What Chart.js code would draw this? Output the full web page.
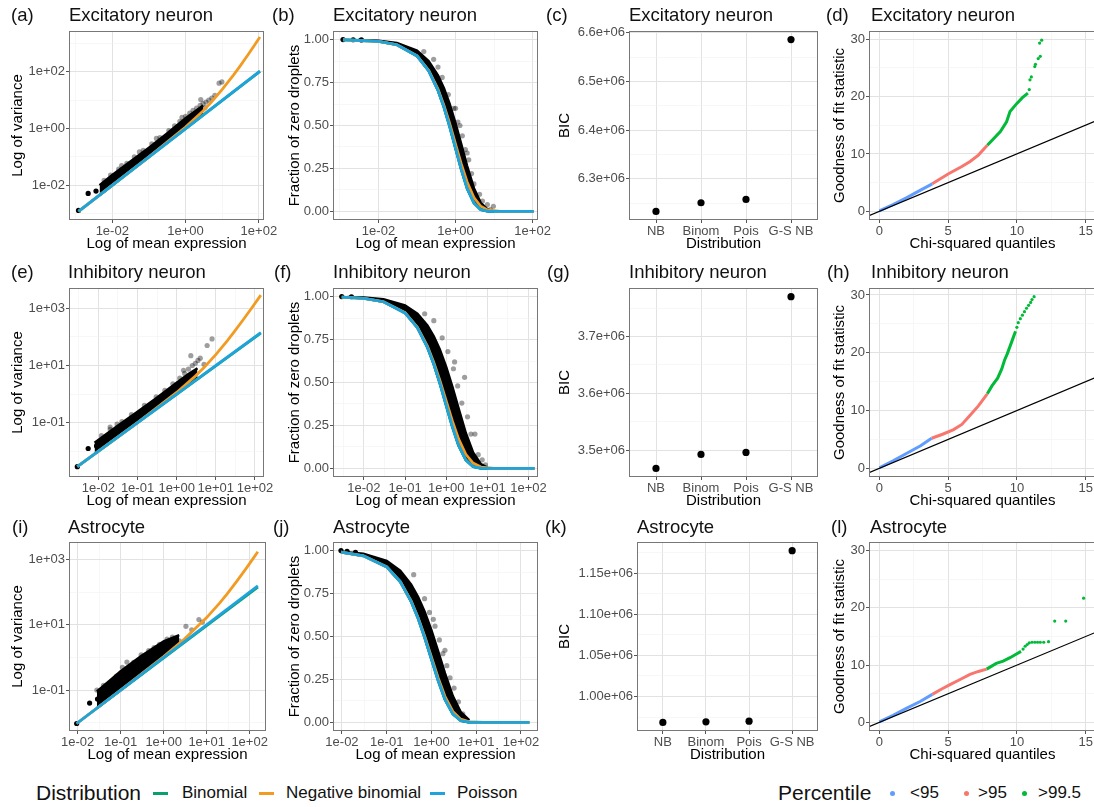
<!DOCTYPE html>
<html>
<head>
<meta charset="utf-8">
<script src="https://cdn.jsdelivr.net/npm/chart.js@4.4.1/dist/chart.umd.min.js"></script>
<style>
  body { margin: 0; width: 1094px; height: 807px; overflow: hidden; background: #fff; position: relative;
         font-family: 'Liberation Sans', Arial, Helvetica, sans-serif; }
  canvas { position: absolute; }
  .tag, .ttl { position: absolute; font-size: 18.5px; line-height: 22px; color: #111; white-space: nowrap; }
  .leg { position: absolute; white-space: nowrap; color: #111; line-height: 24px; }
  .leg .head { font-size: 21px; }
  .leg .lab { font-size: 17px; }
  .key { position: absolute; }
</style>
</head>
<body>
<script>
// ---------- tick labels / categories ----------
const bicLabels = ['NB', 'Binom', 'Pois', 'G-S NB'];
const bicExc = [6.233e6, 6.2507e6, 6.2575e6, 6.586e6];
const bicInh = [3.4679e6, 3.4925e6, 3.496e6, 3.770e6];
const bicAst = [0.9684e6, 0.9692e6, 0.9700e6, 1.1775e6];

// ---------- (a) excitatory: variance vs mean ----------
const excVarPoisX = [0.0012, 107];
const excVarPoisY = [0.0012, 107];
const excVarBinomY = [0.0012, 104];
const excVarNbX = [0.0012, 0.1, 1, 3, 5, 10, 20, 30, 50, 75, 107];
const excVarNbY = [0.0012, 0.101, 1.14, 4.2, 8.4, 24, 75, 153, 392, 845, 1680];
const excVarBandX = [0.0045, 0.01, 0.03, 0.1, 0.3, 1, 2, 3];
const excVarBandLo = [0.0045, 0.0101, 0.031, 0.104, 0.32, 1.1, 2.3, 3.6];
const excVarBandHi = [0.01, 0.023, 0.066, 0.21, 0.65, 2.3, 4.4, 6.5];
const excVarGreyX = [0.006, 0.009, 0.015, 0.025, 0.04, 0.07, 0.12, 0.2, 0.35, 0.5, 0.7, 1.0, 1.3, 1.6, 2.0, 2.5, 3.0, 3.6, 4.3, 5.2, 6.3, 2.6, 8.2, 9.8, 3.4, 0.018, 0.055, 0.16, 0.8];
const excVarGreyY = [0.015, 0.023, 0.037, 0.06, 0.1, 0.17, 0.29, 0.48, 0.85, 1.25, 1.8, 2.7, 3.5, 4.4, 5.3, 6.6, 7.6, 8.6, 10, 12, 15, 10.5, 40, 44, 5.5, 0.05, 0.15, 0.45, 2.5];
const excVarDarkX = [0.0012, 0.0022, 0.0036];
const excVarDarkY = [0.0013, 0.0052, 0.0063];

// ---------- (b) excitatory: zero fraction ----------
const excZeroX = [0.0012, 0.01, 0.03, 0.1, 0.2, 0.35, 0.5, 0.7, 1, 1.4, 2, 3, 4.5, 7, 15, 107];
const excZeroPois = [0.999, 0.990, 0.970, 0.905, 0.819, 0.705, 0.607, 0.497, 0.368, 0.247, 0.135, 0.050, 0.011, 0.001, 0, 0];
const excZeroNb = [0.999, 0.990, 0.970, 0.906, 0.822, 0.712, 0.617, 0.513, 0.392, 0.278, 0.171, 0.081, 0.030, 0.0074, 0.0003, 0];
const excZeroBinom = [0.999, 0.990, 0.970, 0.905, 0.819, 0.704, 0.606, 0.495, 0.366, 0.244, 0.132, 0.048, 0.010, 0.0008, 0, 0];
const excZeroBandX = [0.003, 0.01, 0.03, 0.1, 0.2, 0.35, 0.5, 0.7, 1, 1.4, 2, 3, 4.5, 7, 10];
const excZeroBandLo = [0.997, 0.990, 0.970, 0.905, 0.819, 0.705, 0.607, 0.497, 0.368, 0.247, 0.135, 0.050, 0.011, 0.001, 0.0001];
const excZeroBandHi = [0.998, 0.9934, 0.980, 0.9355, 0.875, 0.792, 0.7165, 0.627, 0.513, 0.393, 0.264, 0.135, 0.050, 0.0094, 0.0013];
const excZeroGreyX = [0.27, 0.45, 0.65, 0.9, 1.15, 1.3, 1.5, 1.8, 2.2, 2.6, 3.0, 3.6, 4.2, 5.0, 6.7, 9.6, 5.6, 8, 2.0, 1.0, 0.15, 0.35];
const excZeroGreyY = [0.885, 0.78, 0.68, 0.6, 0.52, 0.5, 0.44, 0.36, 0.3, 0.22, 0.16, 0.06, 0.1, 0.06, 0.04, 0.03, 0.015, 0.01, 0.34, 0.6, 0.93, 0.84];
const excZeroDarkX = [0.0012, 0.0022, 0.0036];
const excZeroDarkY = [1.0, 0.999, 0.998];

// ---------- (d) excitatory: QQ ----------
const excQqBlueX = [0, 1, 2, 3, 3.85];
const excQqBlueY = [0.1, 1.2, 2.4, 3.7, 4.8];
const excQqRedX = [3.85, 5, 6, 6.6, 7.2, 7.85];
const excQqRedY = [4.8, 6.5, 7.8, 8.7, 9.8, 11.5];
const excQqGreenX = [7.85, 8.2, 8.8, 9.25, 9.5, 10, 10.4, 10.8];
const excQqGreenY = [11.5, 12.4, 13.9, 15.6, 17.4, 18.8, 19.8, 20.6];
const excQqDotX = [10.9, 10.95, 11.05, 11.3, 11.35, 11.55, 11.7, 11.65, 11.8];
const excQqDotY = [21.2, 22.9, 23.4, 25.2, 25.6, 26.6, 27.0, 29.3, 29.8];

// ---------- (e) inhibitory: variance vs mean ----------
const inhVarPoisX = [0.0029, 141];
const inhVarPoisY = [0.0029, 141];
const inhVarBinomY = [0.0029, 136];
const inhVarNbX = [0.0029, 0.1, 1, 3, 5, 10, 20, 30, 50, 80, 141];
const inhVarNbY = [0.0029, 0.1014, 1.14, 4.25, 8.47, 23.9, 75.6, 155, 397, 969, 2902];
const inhVarBandX = [0.008, 0.03, 0.1, 0.3, 1, 2, 3.4];
const inhVarBandLo = [0.0082, 0.031, 0.104, 0.32, 1.1, 2.3, 4];
const inhVarBandHi = [0.02, 0.075, 0.24, 0.72, 2.5, 5, 8];
const inhVarGreyX = [0.012, 0.02, 0.04, 0.07, 0.15, 0.3, 0.5, 0.8, 1.2, 1.6, 2, 2.3, 2.5, 3, 3.5, 4, 5, 6, 8, 1.5, 0.02, 0.03];
const inhVarGreyY = [0.035, 0.058, 0.11, 0.19, 0.4, 0.8, 1.35, 2.3, 3.6, 5.3, 7.5, 22, 10, 12, 15, 18, 11, 50, 85, 6.8, 0.07, 0.09];
const inhVarDarkX = [0.0029, 0.0055, 0.009];
const inhVarDarkY = [0.0029, 0.0125, 0.0154];

// ---------- (f) inhibitory: zero fraction ----------
const inhZeroX = [0.0029, 0.01, 0.03, 0.1, 0.2, 0.35, 0.5, 0.7, 1, 1.4, 2, 3, 4.5, 7, 15, 141];
const inhZeroPois = [0.997, 0.990, 0.970, 0.905, 0.819, 0.705, 0.607, 0.497, 0.368, 0.247, 0.135, 0.050, 0.011, 0.001, 0, 0];
const inhZeroNb = [0.997, 0.990, 0.970, 0.906, 0.822, 0.712, 0.617, 0.513, 0.393, 0.279, 0.172, 0.082, 0.031, 0.0077, 0.0003, 0];
const inhZeroBinom = [0.997, 0.990, 0.970, 0.905, 0.819, 0.704, 0.606, 0.495, 0.366, 0.244, 0.132, 0.048, 0.010, 0.0008, 0, 0];
const inhZeroBandX = [0.004, 0.01, 0.03, 0.1, 0.2, 0.35, 0.5, 0.7, 1, 1.4, 2, 3, 4.5, 7, 10];
const inhZeroBandLo = [0.996, 0.990, 0.970, 0.905, 0.819, 0.705, 0.607, 0.497, 0.368, 0.247, 0.135, 0.050, 0.011, 0.001, 0.0001];
const inhZeroBandHi = [0.998, 0.9948, 0.984, 0.9487, 0.900, 0.832, 0.7686, 0.692, 0.591, 0.4786, 0.349, 0.206, 0.0936, 0.0251, 0.0052];
const inhZeroGreyX = [0.5, 0.8, 1.1, 1.5, 1.9, 2.4, 2.8, 3.3, 4, 5, 6, 7.5, 3, 1.6, 9, 0.3];
const inhZeroGreyY = [0.86, 0.76, 0.68, 0.58, 0.48, 0.38, 0.53, 0.3, 0.2, 0.2, 0.08, 0.05, 0.14, 0.62, 0.02, 0.9];
const inhZeroDarkX = [0.0029, 0.005];
const inhZeroDarkY = [1.0, 0.999];

// ---------- (h) inhibitory: QQ ----------
const inhQqBlueX = [0, 1, 2, 3, 3.8];
const inhQqBlueY = [0.1, 1.3, 2.6, 3.9, 5.2];
const inhQqRedX = [3.8, 4.6, 5.4, 6.0, 6.6, 7.2, 7.85];
const inhQqRedY = [5.2, 5.9, 6.7, 7.6, 9.2, 10.8, 12.9];
const inhQqGreenX = [7.85, 8.2, 8.6, 8.9, 9.1, 9.3, 9.5, 9.7, 9.9];
const inhQqGreenY = [12.9, 14.3, 15.6, 17.2, 18.7, 19.8, 21.1, 22.4, 23.7];
const inhQqDotX = [10.0, 10.1, 10.25, 10.4, 10.55, 10.7, 10.85, 11.0, 11.1, 11.25];
const inhQqDotY = [24.4, 25.2, 25.9, 26.5, 27.1, 27.7, 28.2, 28.7, 29.2, 29.7];

// ---------- (i) astrocyte: variance vs mean ----------
const astVarPoisX = [0.0095, 155];
const astVarPoisY = [0.0095, 155];
const astVarBinomY = [0.0095, 140];
const astVarNbX = [0.0095, 0.1, 1, 3, 10, 20, 30, 50, 80, 120, 155];
const astVarNbY = [0.0095, 0.1006, 1.065, 3.58, 16.5, 45.8, 88, 211, 493, 1049, 1705];
const astVarBandX = [0.028, 0.06, 0.1, 0.3, 1, 2.3];
const astVarBandLo = [0.028, 0.06, 0.1, 0.3, 1.02, 2.4];
const astVarBandHi = [0.09, 0.21, 0.38, 1.1, 3.1, 4.8];
const astVarGreyX = [0.028, 0.04, 0.08, 0.11, 0.14, 0.2, 0.3, 0.45, 0.6, 0.8, 1.2, 1.6, 2.3, 3.3, 4.5, 6.6, 8];
const astVarGreyY = [0.1, 0.14, 0.27, 0.5, 0.72, 0.7, 1.2, 1.6, 2.0, 2.5, 3.6, 4.2, 3.2, 8.9, 7, 14.3, 12];
const astVarDarkX = [0.0095, 0.019, 0.029];
const astVarDarkY = [0.0095, 0.04, 0.053];

// ---------- (j) astrocyte: zero fraction ----------
const astZeroX = [0.0095, 0.03, 0.1, 0.2, 0.35, 0.5, 0.7, 1, 1.4, 2, 3, 4.5, 7, 15, 155];
const astZeroPois = [0.9905, 0.970, 0.905, 0.819, 0.705, 0.607, 0.497, 0.368, 0.247, 0.135, 0.050, 0.011, 0.001, 0, 0];
const astZeroNb = [0.9905, 0.970, 0.905, 0.820, 0.708, 0.611, 0.504, 0.379, 0.262, 0.152, 0.064, 0.019, 0.003, 0.0001, 0];
const astZeroBinom = [0.9905, 0.970, 0.905, 0.819, 0.704, 0.606, 0.495, 0.366, 0.244, 0.132, 0.048, 0.010, 0.0008, 0, 0];
const astZeroBandX = [0.0095, 0.03, 0.1, 0.2, 0.35, 0.5, 0.7, 1, 1.4, 2, 3, 4.5, 7];
const astZeroBandLo = [0.9905, 0.970, 0.905, 0.819, 0.705, 0.607, 0.497, 0.368, 0.247, 0.135, 0.050, 0.011, 0.001];
const astZeroBandHi = [0.994, 0.9814, 0.9394, 0.8825, 0.8035, 0.7316, 0.6456, 0.535, 0.417, 0.2865, 0.1534, 0.060, 0.0126];
const astZeroGreyX = [0.4, 0.7, 0.9, 1.2, 1.5, 1.8, 2.2, 2.6, 3.2, 4, 5, 2, 1.1];
const astZeroGreyY = [0.86, 0.72, 0.64, 0.56, 0.48, 0.4, 0.33, 0.26, 0.2, 0.12, 0.05, 0.42, 0.6];
const astZeroDarkX = [0.0095, 0.013, 0.02];
const astZeroDarkY = [1.0, 0.995, 0.99];

// ---------- (l) astrocyte: QQ ----------
const astQqBlueX = [0, 1, 2, 3, 3.85];
const astQqBlueY = [0.1, 1.25, 2.5, 3.7, 4.9];
const astQqRedX = [3.85, 4.5, 5.14, 5.8, 6.59, 7.2, 7.8];
const astQqRedY = [4.9, 5.8, 6.6, 7.4, 8.4, 8.9, 9.3];
const astQqGreenX = [7.8, 8.5, 9, 9.5, 10, 10.3];
const astQqGreenY = [9.3, 10.3, 10.7, 11.3, 12.0, 12.4];
const astQqDotX = [10.45, 10.6, 10.75, 10.9, 11.1, 11.3, 11.5, 11.7, 11.95, 12.3, 12.75, 13.55, 14.85];
const astQqDotY = [12.8, 13.3, 13.6, 13.9, 14.0, 14.0, 14.0, 14.0, 14.0, 14.1, 17.7, 17.7, 21.7];

// reference line y = x of the QQ panels
const qqRefX = [-0.75, 15.75];

// ---------- colours ----------
const COL_BINOM = '#0A9F70';
const COL_NB = '#F29B22';
const COL_POIS = '#1FA3DD';
const COL_P95 = '#619CFF';
const COL_P95UP = '#F8766D';
const COL_P995 = '#00BA38';

Chart.defaults.font.family = "'Liberation Sans', Arial, Helvetica, sans-serif";

function pts(xs, ys) { return xs.map((x, i) => ({ x: x, y: ys[i] })); }

function logLab(v) {
  const e = Math.round(Math.log10(v));
  return '1e' + (e < 0 ? '-' : '+') + String(Math.abs(e)).padStart(2, '0');
}
function sciLab(d) {
  return v => {
    const e = Math.floor(Math.log10(v) + 1e-9);
    return (v / Math.pow(10, e)).toFixed(d) + 'e+' + String(e).padStart(2, '0');
  };
}

// panel border drawn over the data, like ggplot's theme_bw
const panelBorder = {
  id: 'panelBorder',
  afterDatasetsDraw(chart) {
    const a = chart.chartArea, c = chart.ctx;
    c.save();
    c.strokeStyle = '#777';
    c.lineWidth = 1;
    c.strokeRect(Math.round(a.left) + 0.5, Math.round(a.top) + 0.5, Math.round(a.width) - 1, Math.round(a.height) - 1);
    c.restore();
  }
};

function axis(type, min, max, major, minor, fmt, title) {
  const isMinor = c => c.tick && c.tick.minor;
  return {
    type: type, min: min, max: max,
    title: { display: true, text: title, color: '#000', font: { size: 15 }, padding: 0 },
    border: { display: false },
    grid: {
      color: c => isMinor(c) ? '#F1F1F1' : '#E2E2E2',
      lineWidth: c => isMinor(c) ? 0.6 : 1,
      tickColor: c => isMinor(c) ? 'rgba(0,0,0,0)' : '#555',
      tickWidth: 1,
      tickLength: 3
    },
    ticks: {
      color: '#4D4D4D', font: { size: 13, lineHeight: 1.1 }, padding: 1, autoSkip: false, maxRotation: 0,
      callback: function (v) { return major.indexOf(v) >= 0 ? fmt(v) : ''; }
    },
    afterBuildTicks: s => {
      s.ticks = major.map(v => ({ value: v })).concat(minor.map(v => ({ value: v, minor: true })));
    }
  };
}

function panel(box, datasets, xAx, yAx) {
  const cv = document.createElement('canvas');
  const left = box.L - box.wy, top = box.T - 10;
  const w = box.R + 30 - left, h = box.B + box.hx - top;
  cv.width = w; cv.height = h;
  cv.style.left = left + 'px'; cv.style.top = top + 'px';
  cv.style.width = w + 'px'; cv.style.height = h + 'px';
  document.body.appendChild(cv);
  xAx.afterFit = s => { s.height = box.hx; s.paddingLeft = 0; s.paddingRight = 0; };
  yAx.afterFit = s => { s.width = box.wy; s.paddingTop = 0; s.paddingBottom = 0; };
  new Chart(cv, {
    type: 'line',
    data: { datasets: datasets },
    options: {
      responsive: false, animation: false, events: [],
      layout: { padding: { top: 10, right: 30, left: 0, bottom: 0 } },
      plugins: { legend: { display: false }, tooltip: { enabled: false } },
      scales: { x: xAx, y: yAx }
    },
    plugins: [panelBorder]
  });
}

function lineSet(data, color, width) {
  return { data: data, borderColor: color, borderWidth: width || 2.8, pointRadius: 0, fill: false, tension: 0 };
}
function dotSet(data, color, r) {
  return { data: data, showLine: false, pointRadius: r, pointBackgroundColor: color, pointBorderWidth: 0 };
}
function bandSets(xs, lo, hi) {
  return [
    { data: pts(xs, lo), borderColor: '#000', borderWidth: 2.5, pointRadius: 0, fill: false },
    { data: pts(xs, hi), borderColor: '#000', borderWidth: 2.5, pointRadius: 0, fill: '-1', backgroundColor: '#000' }
  ];
}

// ---------- panel geometry (plot area in page pixels) ----------
const BOX = {
  a: { L: 69, T: 31, R: 264, B: 220, wy: 60, hx: 33 },
  b: { L: 333, T: 31, R: 538, B: 220, wy: 47, hx: 33 },
  c: { L: 629, T: 31, R: 818, B: 220, wy: 73, hx: 33 },
  d: { L: 869, T: 31, R: 1096, B: 220, wy: 38, hx: 33 },
  e: { L: 69, T: 288, R: 264, B: 477, wy: 60, hx: 33 },
  f: { L: 333, T: 288, R: 538, B: 477, wy: 47, hx: 33 },
  g: { L: 629, T: 288, R: 818, B: 477, wy: 73, hx: 33 },
  h: { L: 869, T: 288, R: 1096, B: 477, wy: 38, hx: 33 },
  i: { L: 69, T: 542, R: 266, B: 731, wy: 60, hx: 33 },
  j: { L: 333, T: 542, R: 538, B: 731, wy: 47, hx: 33 },
  k: { L: 637, T: 542, R: 818, B: 731, wy: 81, hx: 33 },
  l: { L: 869, T: 542, R: 1096, B: 731, wy: 38, hx: 33 }
};

const zeroMajor = [0, 0.25, 0.5, 0.75, 1];
const zeroMinor = [0.125, 0.375, 0.625, 0.875];
const qqXMajor = [0, 5, 10, 15], qqXMinor = [2.5, 7.5, 12.5];
const qqYMajor = [0, 10, 20, 30], qqYMinor = [5, 15, 25];
const f2 = v => v.toFixed(2);
const fint = v => String(v);

function varPanel(box, lim, xt, yt, d) {
  panel(box, [
    lineSet(pts(d.poisX, d.poisY), COL_POIS),
    lineSet(pts(d.nbX, d.nbY), COL_NB),
    lineSet(pts(d.poisX, d.binomY), COL_BINOM),
    dotSet(pts(d.greyX, d.greyY), 'rgba(0,0,0,0.38)', 2.6),
    dotSet(pts(d.darkX, d.darkY), '#000', 2.6)
  ].concat(bandSets(d.bandX, d.bandLo, d.bandHi)),
    axis('logarithmic', lim[0], lim[1], xt[0], xt[1], logLab, 'Log of mean expression'),
    axis('logarithmic', lim[2], lim[3], yt[0], yt[1], logLab, 'Log of variance'));
}

function zeroPanel(box, lim, xt, d) {
  panel(box, [
    lineSet(pts(d.x, d.pois), COL_POIS),
    lineSet(pts(d.x, d.nb), COL_NB),
    lineSet(pts(d.x, d.binom), COL_BINOM),
    dotSet(pts(d.greyX, d.greyY), 'rgba(0,0,0,0.38)', 2.6),
    dotSet(pts(d.darkX, d.darkY), '#000', 2.6)
  ].concat(bandSets(d.bandX, d.bandLo, d.bandHi)),
    axis('logarithmic', lim[0], lim[1], xt[0], xt[1], logLab, 'Log of mean expression'),
    axis('linear', -0.05, 1.05, zeroMajor, zeroMinor, f2, 'Fraction of zero droplets'));
}

function bicPanel(box, vals, ymin, ymax, major, minor, fmt) {
  panel(box, [dotSet(pts([0, 1, 2, 3], vals), '#000', 3.6)],
    axis('linear', -0.6, 3.6, [0, 1, 2, 3], [], v => bicLabels[v], 'Distribution'),
    axis('linear', ymin, ymax, major, minor, fmt, 'BIC'));
}

function qqPanel(box, ymax, d) {
  panel(box, [
    lineSet(pts(qqRefX, qqRefX), '#000', 1.2),
    lineSet(pts(d.blueX, d.blueY), COL_P95, 3),
    lineSet(pts(d.redX, d.redY), COL_P95UP, 3),
    lineSet(pts(d.greenX, d.greenY), COL_P995, 3),
    dotSet(pts(d.dotX, d.dotY), COL_P995, 1.6)
  ],
    axis('linear', -0.75, 15.75, qqXMajor, qqXMinor, fint, 'Chi-squared quantiles'),
    axis('linear', -1.5, ymax, qqYMajor, qqYMinor, fint, 'Goodness of fit statistic'));
}

// ---------- row 1: excitatory neuron ----------
varPanel(BOX.a, [6.6e-4, 138, 6.3e-4, 2754],
  [[1e-2, 1, 1e2], [1e-3, 1e-1, 1e1]], [[1e-2, 1, 1e2], [1e-3, 1e-1, 1e1, 1e3]],
  { poisX: excVarPoisX, poisY: excVarPoisY, binomY: excVarBinomY, nbX: excVarNbX, nbY: excVarNbY,
    bandX: excVarBandX, bandLo: excVarBandLo, bandHi: excVarBandHi,
    greyX: excVarGreyX, greyY: excVarGreyY, darkX: excVarDarkX, darkY: excVarDarkY });
zeroPanel(BOX.b, [6.6e-4, 138], [[1e-2, 1, 1e2], [1e-3, 1e-1, 1e1]],
  { x: excZeroX, pois: excZeroPois, nb: excZeroNb, binom: excZeroBinom,
    bandX: excZeroBandX, bandLo: excZeroBandLo, bandHi: excZeroBandHi,
    greyX: excZeroGreyX, greyY: excZeroGreyY, darkX: excZeroDarkX, darkY: excZeroDarkY });
bicPanel(BOX.c, bicExc, 6.2153e6, 6.6037e6, [6.3e6, 6.4e6, 6.5e6, 6.6e6], [6.25e6, 6.35e6, 6.45e6, 6.55e6], sciLab(1));
qqPanel(BOX.d, 31.4, { blueX: excQqBlueX, blueY: excQqBlueY, redX: excQqRedX, redY: excQqRedY,
  greenX: excQqGreenX, greenY: excQqGreenY, dotX: excQqDotX, dotY: excQqDotY });

// ---------- row 2: inhibitory neuron ----------
const halfDec = [0.00316, 0.0316, 0.316, 3.16, 31.6];
varPanel(BOX.e, [0.00178, 170, 0.00126, 5129],
  [[1e-2, 1e-1, 1, 1e1, 1e2], halfDec], [[1e-1, 1e1, 1e3], [1e-2, 1, 1e2]],
  { poisX: inhVarPoisX, poisY: inhVarPoisY, binomY: inhVarBinomY, nbX: inhVarNbX, nbY: inhVarNbY,
    bandX: inhVarBandX, bandLo: inhVarBandLo, bandHi: inhVarBandHi,
    greyX: inhVarGreyX, greyY: inhVarGreyY, darkX: inhVarDarkX, darkY: inhVarDarkY });
zeroPanel(BOX.f, [0.00178, 170], [[1e-2, 1e-1, 1, 1e1, 1e2], halfDec],
  { x: inhZeroX, pois: inhZeroPois, nb: inhZeroNb, binom: inhZeroBinom,
    bandX: inhZeroBandX, bandLo: inhZeroBandLo, bandHi: inhZeroBandHi,
    greyX: inhZeroGreyX, greyY: inhZeroGreyY, darkX: inhZeroDarkX, darkY: inhZeroDarkY });
bicPanel(BOX.g, bicInh, 3.4528e6, 3.7852e6, [3.5e6, 3.6e6, 3.7e6], [3.55e6, 3.65e6, 3.75e6], sciLab(1));
qqPanel(BOX.h, 31.2, { blueX: inhQqBlueX, blueY: inhQqBlueY, redX: inhQqRedX, redY: inhQqRedY,
  greenX: inhQqGreenX, greenY: inhQqGreenY, dotX: inhQqDotX, dotY: inhQqDotY });

// ---------- row 3: astrocyte ----------
const halfDec3 = [0.0316, 0.316, 3.16, 31.6];
varPanel(BOX.i, [0.0063, 240, 0.0056, 3388],
  [[1e-2, 1e-1, 1, 1e1, 1e2], halfDec3], [[1e-1, 1e1, 1e3], [1e-2, 1, 1e2]],
  { poisX: astVarPoisX, poisY: astVarPoisY, binomY: astVarBinomY, nbX: astVarNbX, nbY: astVarNbY,
    bandX: astVarBandX, bandLo: astVarBandLo, bandHi: astVarBandHi,
    greyX: astVarGreyX, greyY: astVarGreyY, darkX: astVarDarkX, darkY: astVarDarkY });
zeroPanel(BOX.j, [0.0063, 240], [[1e-2, 1e-1, 1, 1e1, 1e2], halfDec3],
  { x: astZeroX, pois: astZeroPois, nb: astZeroNb, binom: astZeroBinom,
    bandX: astZeroBandX, bandLo: astZeroBandLo, bandHi: astZeroBandHi,
    greyX: astZeroGreyX, greyY: astZeroGreyY, darkX: astZeroDarkX, darkY: astZeroDarkY });
bicPanel(BOX.k, bicAst, 0.958e6, 1.188e6, [1.0e6, 1.05e6, 1.1e6, 1.15e6], [0.975e6, 1.025e6, 1.075e6, 1.125e6, 1.175e6], sciLab(2));
qqPanel(BOX.l, 31.5, { blueX: astQqBlueX, blueY: astQqBlueY, redX: astQqRedX, redY: astQqRedY,
  greenX: astQqGreenX, greenY: astQqGreenY, dotX: astQqDotX, dotY: astQqDotY });

// ---------- tags and titles ----------
const heads = [
  ['(a)', 11, 'Excitatory neuron', 69, 4], ['(b)', 272, 'Excitatory neuron', 333, 4],
  ['(c)', 546, 'Excitatory neuron', 629, 4], ['(d)', 826, 'Excitatory neuron', 871, 4],
  ['(e)', 11, 'Inhibitory neuron', 68, 261], ['(f)', 274, 'Inhibitory neuron', 333, 261],
  ['(g)', 547, 'Inhibitory neuron', 629, 261], ['(h)', 827, 'Inhibitory neuron', 871, 261],
  ['(i)', 12, 'Astrocyte', 68, 516], ['(j)', 273, 'Astrocyte', 333, 516],
  ['(k)', 545, 'Astrocyte', 637, 516], ['(l)', 831, 'Astrocyte', 870, 516]
];
heads.forEach(h => {
  const t = document.createElement('div');
  t.className = 'tag'; t.textContent = h[0];
  t.style.left = h[1] + 'px'; t.style.top = h[4] + 'px';
  document.body.appendChild(t);
  const s = document.createElement('div');
  s.className = 'ttl'; s.textContent = h[2];
  s.style.left = h[3] + 'px'; s.style.top = h[4] + 'px';
  document.body.appendChild(s);
});

// ---------- legends ----------
function legText(cls, txt, x) {
  const d = document.createElement('div');
  d.className = 'leg'; d.style.left = x + 'px'; d.style.top = '781px';
  d.innerHTML = '<span class="' + cls + '">' + txt + '</span>';
  document.body.appendChild(d);
}
function legKey(x, y, w, h, color, round) {
  const k = document.createElement('div');
  k.className = 'key';
  k.style.cssText = 'left:' + x + 'px;top:' + y + 'px;width:' + w + 'px;height:' + h + 'px;background:' + color + ';' + (round ? 'border-radius:50%;' : '');
  document.body.appendChild(k);
}
legText('head', 'Distribution', 36);
legKey(153, 792, 15, 3, COL_BINOM);
legText('lab', 'Binomial', 182);
legKey(259, 792, 15, 3, COL_NB);
legText('lab', 'Negative binomial', 286);
legKey(430, 792, 15, 3, COL_POIS);
legText('lab', 'Poisson', 457);
legText('head', 'Percentile', 778);
legKey(890, 791, 5, 5, COL_P95, true);
legText('lab', '&lt;95', 910);
legKey(964, 791, 5, 5, COL_P95UP, true);
legText('lab', '&gt;95', 978);
legKey(1022, 791, 5, 5, COL_P995, true);
legText('lab', '&gt;99.5', 1038);
</script>
</body>
</html>
